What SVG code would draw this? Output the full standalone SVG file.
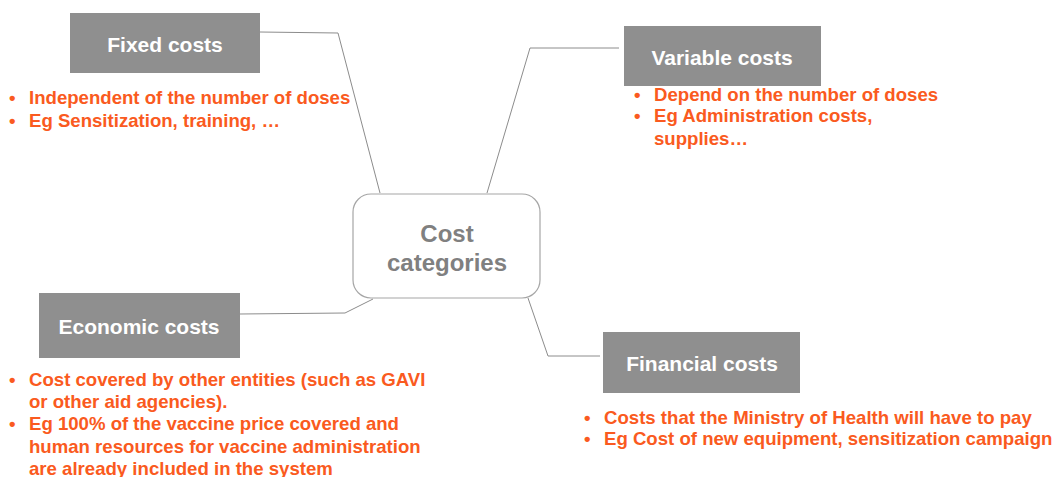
<svg xmlns="http://www.w3.org/2000/svg" width="1055" height="477" viewBox="0 0 1055 477">
  <style>
    .box { fill: #8f8f8f; }
    .title { font-family: "Liberation Sans", Arial, sans-serif; font-weight: bold; font-size: 21px; fill: #ffffff; text-anchor: middle; }
    .hub { fill: #ffffff; stroke: #a6a6a6; stroke-width: 1.2; }
    .hubtext { font-family: "Liberation Sans", Arial, sans-serif; font-weight: bold; font-size: 24px; fill: #808080; text-anchor: middle; }
    .bullet { font-family: "Liberation Sans", Arial, sans-serif; font-weight: bold; font-size: 18.6px; fill: #fa5a20; }
    .link { fill: none; stroke: #8c8c8c; stroke-width: 1; }
  </style>
  <rect width="1055" height="477" fill="#ffffff"/>

  <g id="connectors">
    <polyline class="link" points="260,32 338,33 380,193"/>
    <polyline class="link" points="619,48 530,48 487,193"/>
    <polyline class="link" points="240,314 345,313 373,299"/>
    <polyline class="link" points="528,298 548,356 600,356"/>
  </g>

  <g id="cost-categories">
    <rect class="hub" x="353" y="194" width="187" height="104" rx="18" ry="18"/>
    <text class="hubtext" x="447" y="242">Cost</text>
    <text class="hubtext" x="447" y="271">categories</text>
  </g>

  <g id="fixed-costs">
    <rect class="box" x="70" y="13" width="190" height="60"/>
    <text class="title" x="165" y="52">Fixed costs</text>
    <text class="bullet" x="9" y="104">•</text>
    <text class="bullet" x="29" y="104">Independent of the number of doses</text>
    <text class="bullet" x="9" y="127">•</text>
    <text class="bullet" x="29" y="127">Eg Sensitization, training, …</text>
  </g>

  <g id="variable-costs">
    <rect class="box" x="624" y="26" width="197" height="60"/>
    <text class="title" x="722" y="65">Variable costs</text>
    <text class="bullet" x="634" y="101">•</text>
    <text class="bullet" x="654" y="101">Depend on the number of doses</text>
    <text class="bullet" x="634" y="122">•</text>
    <text class="bullet" x="654" y="122">Eg Administration costs,</text>
    <text class="bullet" x="654" y="145">supplies…</text>
  </g>

  <g id="economic-costs">
    <rect class="box" x="39" y="293" width="201" height="65"/>
    <text class="title" x="139" y="334">Economic costs</text>
    <text class="bullet" x="9" y="386">•</text>
    <text class="bullet" x="29" y="386">Cost covered by other entities (such as GAVI</text>
    <text class="bullet" x="29" y="408">or other aid agencies).</text>
    <text class="bullet" x="9" y="430">•</text>
    <text class="bullet" x="29" y="430">Eg 100% of the vaccine price covered and</text>
    <text class="bullet" x="29" y="453">human resources for vaccine administration</text>
    <text class="bullet" x="29" y="475">are already included in the system</text>
  </g>

  <g id="financial-costs">
    <rect class="box" x="603" y="332" width="197" height="61"/>
    <text class="title" x="702" y="371">Financial costs</text>
    <text class="bullet" x="584" y="424">•</text>
    <text class="bullet" x="604" y="424">Costs that the Ministry of Health will have to pay</text>
    <text class="bullet" x="584" y="445">•</text>
    <text class="bullet" x="604" y="445">Eg Cost of new equipment, sensitization campaign</text>
  </g>
</svg>
